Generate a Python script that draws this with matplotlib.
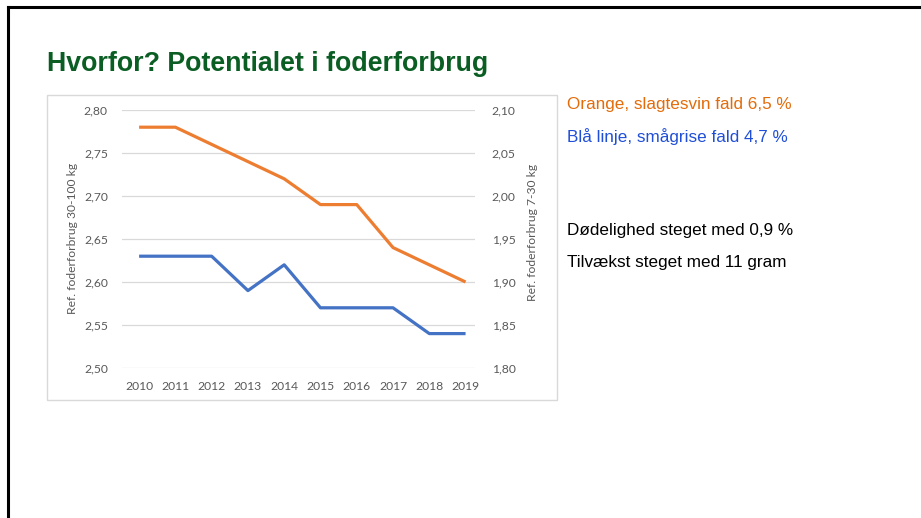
import matplotlib
matplotlib.use('Agg')
import matplotlib.pyplot as plt
from matplotlib.patches import Rectangle
from matplotlib.lines import Line2D

W, H = 921, 518

years = ['2010', '2011', '2012', '2013', '2014', '2015', '2016', '2017', '2018', '2019']
slagtesvin = [2.78, 2.78, 2.76, 2.74, 2.72, 2.69, 2.69, 2.64, 2.62, 2.60]
smaagrise = [1.93, 1.93, 1.93, 1.89, 1.92, 1.87, 1.87, 1.87, 1.84, 1.84]
left_ticks = [2.50, 2.55, 2.60, 2.65, 2.70, 2.75, 2.80]
right_ticks = [1.80, 1.85, 1.90, 1.95, 2.00, 2.05, 2.10]

title = 'Hvorfor? Potentialet i foderforbrug'
notes = [('Orange, slagtesvin fald 6,5 %', '#e36c0a', 105),
         ('Blå linje, smågrise fald 4,7 %', '#1f4fd8', 137),
         ('Dødelighed steget med 0,9 %', '#000000', 230),
         ('Tilvækst steget med 11 gram', '#000000', 262)]

orange = '#ed7d31'
blue = '#4472c4'
grey = '#595959'


def fx(x):
    return x / W


def fy(y):
    return 1 - y / H


fig = plt.figure(figsize=(W / 100, H / 100), dpi=100)

# slide frame
fig.add_artist(Line2D([fx(8), fx(8)], [fy(7), 0], color='black', lw=2.2))
fig.add_artist(Line2D([fx(8), 1], [fy(7), fy(7)], color='black', lw=2.2))

fig.text(fx(47), fy(64), title, fontsize=19.3, fontweight='bold', color='#0b5e23',
         family='Liberation Sans', va='center', ha='left')

# chart frame
fig.add_artist(Rectangle((fx(47), fy(400)), fx(557 - 47), (400 - 95) / H,
                         transform=fig.transFigure, fill=False, edgecolor='#d9d9d9', lw=1))

ax = fig.add_axes([fx(121.7), fy(368), fx(475 - 121.7), (368 - 110) / H])
x = list(range(len(years)))
ax.plot(x, slagtesvin, color=orange, lw=2.3, solid_capstyle='butt')
ax.set_ylim(2.50, 2.80)
ax.set_yticks(left_ticks)
ax.set_yticklabels([f'{v:.2f}'.replace('.', ',') for v in left_ticks])
ax.set_xticks(x)
ax.set_xticklabels(years)
ax.set_xlim(-0.48, 9.26)
ax.grid(axis='y', color='#d9d9d9', lw=0.9)
ax.set_axisbelow(True)

ax2 = ax.twinx()
ax2.plot(x, smaagrise, color=blue, lw=2.3, solid_capstyle='butt')
ax2.set_ylim(1.80, 2.10)
ax2.set_yticks(right_ticks)
ax2.set_yticklabels([f'{v:.2f}'.replace('.', ',') for v in right_ticks])

for a in (ax, ax2):
    for s in a.spines.values():
        s.set_visible(False)
    a.tick_params(length=0, labelsize=8.7, labelcolor=grey)
    for lab in a.get_xticklabels() + a.get_yticklabels():
        lab.set_family('Lato')
ax.tick_params(axis='y', pad=10)
ax.tick_params(axis='x', pad=9)
ax2.tick_params(axis='y', pad=12)

fig.text(fx(73), fy(238), 'Ref. foderforbrug 30-100 kg', rotation=90, fontsize=8.7,
         color=grey, family='Lato', ha='center', va='center')
fig.text(fx(532), fy(232), 'Ref. foderforbrug 7-30 kg', rotation=90, fontsize=8.7,
         color=grey, family='Lato', ha='center', va='center')

for txt, col, y in notes:
    fig.text(fx(567), fy(y), txt, fontsize=12.3, color=col, family='Liberation Sans',
             ha='left', va='center')

fig.savefig('out.png', dpi=100)
